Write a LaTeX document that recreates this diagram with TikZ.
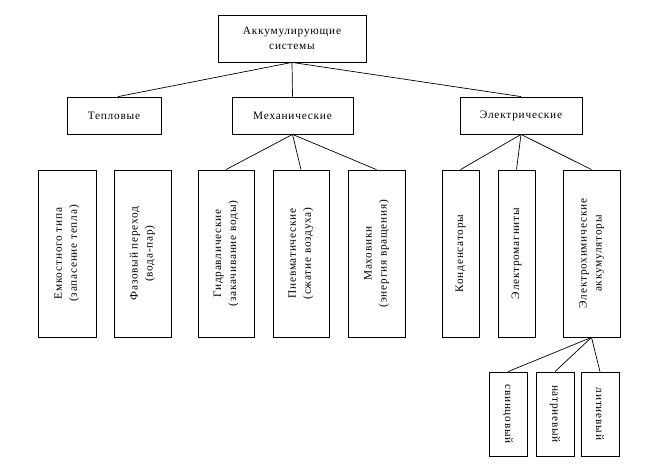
\documentclass[tikz,border=0pt]{standalone}
\usepackage{fontspec}
\setmainfont{Liberation Serif}[LetterSpace=7]
\begin{document}
\begin{tikzpicture}[x=1pt,y=-1pt,
  box/.style={draw=black, line width=0.8pt, fill=white, inner sep=0pt},
  lbl/.style={font=\fontsize{11.3}{15}\selectfont, align=center},
  conn/.style={draw=black, line width=0.7pt}]
\useasboundingbox[fill=white] (0,0) rectangle (655,463);
% boxes
\node[box, minimum width=148pt, minimum height=47pt] (root) at (292,38.5) {};
\node[box, minimum width=94pt, minimum height=37pt] (heat) at (114,115.5) {};
\node[box, minimum width=121pt, minimum height=37pt] (mech) at (292.5,115.5) {};
\node[box, minimum width=122pt, minimum height=37pt] (elec) at (521,115.5) {};
\node[box, minimum width=58pt, minimum height=167pt] (b1) at (67,253.5) {};
\node[box, minimum width=57pt, minimum height=167pt] (b2) at (142.5,253.5) {};
\node[box, minimum width=56pt, minimum height=167pt] (b3) at (226,253.5) {};
\node[box, minimum width=56pt, minimum height=167pt] (b4) at (301,253.5) {};
\node[box, minimum width=57pt, minimum height=167pt] (b5) at (376.5,253.5) {};
\node[box, minimum width=37pt, minimum height=167pt] (b6) at (460.5,253.5) {};
\node[box, minimum width=37pt, minimum height=167pt] (b7) at (516.5,253.5) {};
\node[box, minimum width=57pt, minimum height=167pt] (b8) at (591.5,253.5) {};
\node[box, minimum width=38pt, minimum height=84pt] (c1) at (508,414) {};
\node[box, minimum width=38pt, minimum height=84pt] (c2) at (555,414) {};
\node[box, minimum width=38pt, minimum height=84pt] (c3) at (600,414) {};
% labels
\node[lbl] (troot) at (root) {Аккумулирующие\\системы};
\node[lbl] (theat) at (heat) {Тепловые};
\node[lbl] (tmech) at (mech) {Механические};
\node[lbl] (telec) at (elec) {Электрические};
\node[lbl, rotate=90] (tb1) at (b1) {Емкостного типа\\(запасение тепла)};
\node[lbl, rotate=90] (tb2) at (b2) {Фазовый переход\\(вода-пар)};
\node[lbl, rotate=90] (tb3) at (b3) {Гидравлические\\(закачивание воды)};
\node[lbl, rotate=90] (tb4) at (b4) {Пневматические\\(сжатие воздуха)};
\node[lbl, rotate=90] (tb5) at (b5) {Маховики\\(энергия вращения)};
\node[lbl, rotate=90] (tb6) at (b6) {Конденсаторы};
\node[lbl, rotate=90] (tb7) at (b7) {Электромагниты};
\node[lbl, rotate=90] (tb8) at (b8) {Электрохимические\\аккумуляторы};
\node[lbl, rotate=-90] (tc1) at (c1) {свинцовый};
\node[lbl, rotate=-90] (tc2) at (c2) {натриевый};
\node[lbl, rotate=-90] (tc3) at (c3) {литиевый};
% connectors
\draw[conn] (root.south) -- ([xshift=4pt]heat.north);
\draw[conn] (root.south) -- (mech.north);
\draw[conn] (root.south) -- (elec.north);
\draw[conn] (mech.south) -- (b3.north);
\draw[conn] (mech.south) -- (b4.north);
\draw[conn] (mech.south) -- (b5.north);
\draw[conn] (elec.south) -- (b6.north);
\draw[conn] (elec.south) -- (b7.north);
\draw[conn] (elec.south) -- (b8.north);
\draw[conn] (b8.south) -- (c1.north);
\draw[conn] (b8.south) -- (c2.north);
\draw[conn] (b8.south) -- (c3.north);
\end{tikzpicture}
\end{document}
